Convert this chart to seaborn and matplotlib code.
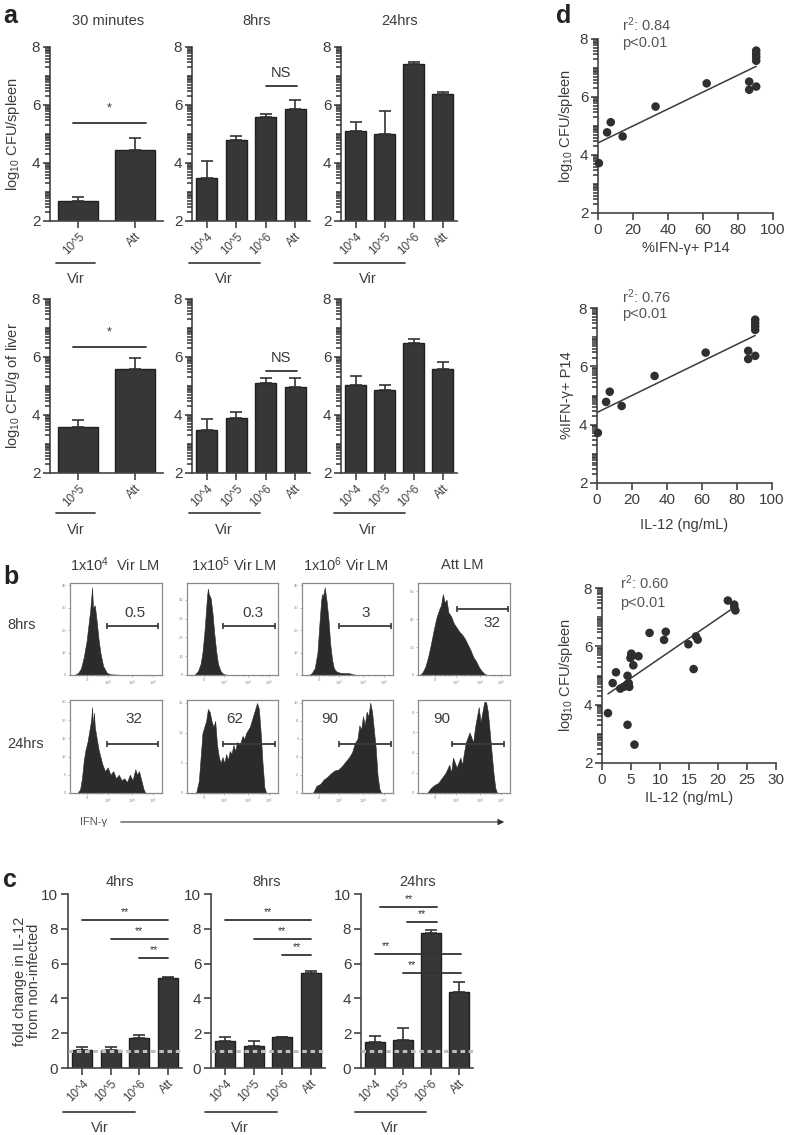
import numpy as np
import pandas as pd
import matplotlib
matplotlib.use('Agg')
import matplotlib.pyplot as plt
import seaborn as sns
from matplotlib.lines import Line2D
from matplotlib.patches import FancyArrowPatch
from matplotlib.ticker import FixedLocator, NullLocator
from matplotlib.transforms import blended_transform_factory

sns.set_theme(style='ticks')
plt.rcParams['font.family'] = ['Liberation Sans', 'DejaVu Sans']
plt.rcParams['mathtext.fontset'] = 'custom'
plt.rcParams['mathtext.rm'] = 'Liberation Sans'
plt.rcParams['mathtext.it'] = 'Liberation Sans:italic'
plt.rcParams['mathtext.bf'] = 'Liberation Sans:bold'

TXT = '#3c3c3c'
BAR = '#373737'
SPINE = '#444444'

# ---------------- data ----------------
# panel a: log10 CFU
cats2 = ['10^5', 'Att']
cats4 = ['10^4', '10^5', '10^6', 'Att']
spleen_30m = [2.70, 4.45]
spleen_30m_err = [0.14, 0.42]
spleen_8h = [3.50, 4.80, 5.58, 5.85]
spleen_8h_err = [0.57, 0.12, 0.10, 0.31]
spleen_24h = [5.12, 5.00, 7.42, 6.37]
spleen_24h_err = [0.31, 0.78, 0.08, 0.09]
liver_30m = [3.60, 5.60]
liver_30m_err = [0.23, 0.38]
liver_8h = [3.47, 3.90, 5.10, 4.97]
liver_8h_err = [0.40, 0.20, 0.18, 0.32]
liver_24h = [5.03, 4.87, 6.50, 5.57]
liver_24h_err = [0.32, 0.15, 0.12, 0.27]
a_titles = ['30 minutes', '8hrs', '24hrs']

# panel b: IFN-gamma histograms (channel 0-100, counts)
b_titles = ['1x10$^{4}$  Vir LM', '1x10$^{5}$ Vir LM', '1x10$^{6}$ Vir LM', 'Att LM']
h8_v4_x = [5, 9, 12, 15, 18, 20, 22, 23, 24, 25, 27, 29, 31, 33, 36, 40, 44, 60, 100]
h8_v4_y = [0, 1, 3, 8, 15, 22, 29, 34, 39, 30, 31, 24, 16, 10, 4, 1, 0.3, 0, 0]
h8_v5_x = [8, 12, 15, 17, 19, 21, 22, 23, 24, 26, 28, 30, 32, 34, 37, 40, 45, 100]
h8_v5_y = [0, 2, 6, 12, 22, 35, 42, 46, 43, 41, 33, 22, 13, 6, 2, 0.5, 0, 0]
h8_v6_x = [8, 11, 14, 17, 19, 21, 22, 23, 24, 25, 26, 27, 29, 31, 33, 35, 38, 42, 48, 52, 56, 60, 100]
h8_v6_y = [0, 1, 3, 10, 22, 33, 36, 35, 37, 39, 36, 33, 25, 14, 7, 3, 1.5, 1, 0.8, 0.8, 0.3, 0, 0]
h8_att_x = [2, 5, 8, 11, 14, 17, 20, 23, 25, 27, 29, 31, 33, 36, 39, 42, 45, 48, 51, 54, 57, 60, 63, 66, 69, 72, 75, 100]
h8_att_y = [0, 2, 6, 13, 22, 32, 41, 47, 50, 58, 52, 54, 45, 42, 37, 34, 31, 29, 26, 22, 18, 13, 10, 6, 3, 1, 0, 0]
h24_v4_x = [8, 11, 13, 15, 17, 19, 21, 23, 24, 25, 26, 27, 29, 31, 33, 35, 38, 41, 44, 47, 50, 53, 56, 59, 62, 65, 68, 71, 73, 75, 78, 80, 82, 100]
h24_v4_y = [0, 1, 4, 9, 12, 14, 17, 20, 23.5, 18, 22, 18, 15, 12, 10, 8, 6, 7, 5, 6, 4, 5, 3.5, 4, 3, 5, 3.5, 6.5, 5, 6, 3, 1, 0, 0]
h24_v5_x = [10, 13, 15, 17, 19, 21, 23, 25, 27, 29, 31, 33, 35, 37, 39, 41, 43, 45, 47, 49, 51, 53, 55, 57, 59, 61, 63, 65, 67, 69, 71, 73, 75, 77, 79, 81, 83, 85, 87, 100]
h24_v5_y = [0, 2, 6, 10, 11, 12, 14, 13.5, 12, 11, 12, 8, 6, 5, 6, 5, 6.5, 5.5, 7, 6.5, 8, 7, 8.5, 8, 8.5, 9.5, 9, 10, 10.5, 11, 12, 13, 14, 15, 14, 10, 5, 1, 0, 0]
h24_v6_x = [12, 16, 20, 24, 28, 32, 36, 40, 44, 48, 52, 55, 58, 61, 63, 65, 67, 69, 71, 73, 75, 77, 79, 81, 83, 85, 87, 100]
h24_v6_y = [0, 0.8, 1, 1.5, 1.8, 2.2, 2.5, 2.6, 3, 3.5, 4, 4.5, 5.5, 6, 7.5, 7, 8.5, 7.5, 9, 8.5, 10, 9, 7, 5, 2, 0.5, 0, 0]
h24_att_x = [10, 14, 18, 22, 26, 30, 34, 36, 38, 42, 46, 48, 50, 52, 54, 56, 58, 60, 62, 64, 66, 68, 70, 72, 74, 76, 78, 80, 82, 84, 86, 100]
h24_att_y = [0, 0.5, 0.8, 1, 1.5, 2, 2.8, 2, 3.5, 2.5, 3.5, 2.8, 4, 5, 5.5, 6, 5.5, 5, 6.5, 7.5, 8.5, 7, 8, 9, 9, 8, 6, 4, 2, 0.5, 0, 0]
gate_pct_8h = ['0.5', '0.3', '3', '32']
gate_pct_24h = ['32', '62', '90', '90']
flow_xtick_labels = ['0', '$10^3$', '$10^4$', '$10^5$']

# panel c: fold change IL-12
c_titles = ['4hrs', '8hrs', '24hrs']
il12_4h = [1.05, 1.05, 1.70, 5.20]
il12_4h_err = [0.15, 0.15, 0.18, 0.02]
il12_8h = [1.55, 1.27, 1.78, 5.47]
il12_8h_err = [0.22, 0.30, 0.03, 0.13]
il12_24h = [1.47, 1.60, 7.78, 4.38]
il12_24h_err = [0.36, 0.72, 0.15, 0.58]

# panel d: correlations
pct_ifng = [0.5, 5.2, 7.3, 14.1, 32.9, 62.1, 86.4, 86.4, 90.4, 90.4, 90.4, 90.4, 90.4]
cfu_spleen_d1 = [3.72, 4.78, 5.13, 4.64, 5.67, 6.47, 6.53, 6.25, 6.36, 7.25, 7.37, 7.48, 7.60]
il12_ngml = [1.03, 1.84, 2.41, 3.16, 3.73, 4.3, 4.4, 4.6, 4.7, 4.4, 4.9, 5.05, 5.2, 5.4, 5.6, 6.3,
             8.2, 10.7, 11.0, 14.9, 15.8, 16.2, 16.5, 21.7, 22.8, 22.8, 23.0]
cfu_spleen_d3 = [3.71, 4.74, 5.11, 4.55, 4.61, 4.69, 4.99, 4.74, 4.61, 3.31, 5.60, 5.75, 5.68, 5.35, 2.63, 5.66,
                 6.46, 6.22, 6.50, 6.07, 5.22, 6.34, 6.23, 7.57, 7.43, 7.35, 7.23]
d_stats = [('r$^2$: 0.84', 'p<0.01'), ('r$^2$: 0.76', 'p<0.01'), ('r$^2$: 0.60', 'p<0.01')]

# ---------------- figure ----------------
W, H = 787, 1135
fig = plt.figure(figsize=(W / 100, H / 100), dpi=100)
fig.patch.set_facecolor('white')


def add_ax(x0, y0, x1, y1):
    return fig.add_axes([x0 / W, 1 - y1 / H, (x1 - x0) / W, (y1 - y0) / H])


def ftext(x, y, s, **kw):
    kw.setdefault('color', TXT)
    fig.text(x / W, 1 - y / H, s, **kw)


def fline(x0, x1, y, **kw):
    fig.add_artist(Line2D([x0 / W, x1 / W], [1 - y / H, 1 - y / H], transform=fig.transFigure,
                          color='#444444', lw=1.3, **kw))


log_minor = [n + np.log10(k) for n in range(2, 8) for k in range(2, 10)] + [3, 5, 7]


def style_axis(ax, ytick_size=11):
    sns.despine(ax=ax)
    for s in ['left', 'bottom']:
        ax.spines[s].set_color(SPINE)
        ax.spines[s].set_linewidth(1.2)
    ax.tick_params(axis='both', which='major', colors=SPINE, labelcolor=TXT, length=5, width=1.2,
                   labelsize=ytick_size, pad=2)
    ax.yaxis.set_minor_locator(NullLocator())
    ax.set_facecolor('white')


def add_minor(ax):
    # log-spaced minor tick marks along the left spine
    tr = blended_transform_factory(ax.transAxes, ax.transData)
    ax.plot(np.zeros(len(log_minor)), log_minor, transform=tr, linestyle='none',
            marker=0, markersize=3.6, markeredgewidth=1.1, color='#333333', clip_on=False, zorder=6)


def bar_panel(ax, cats, vals, errs, ylim, yticks, minor=True):
    df = pd.DataFrame({'cat': cats, 'val': vals})
    sns.barplot(data=df, x='cat', y='val', ax=ax, color=BAR, saturation=1, width=0.7,
                edgecolor='#1f1f1f', linewidth=1.0, errorbar=None)
    ax.errorbar(np.arange(len(cats)), vals, yerr=[np.zeros(len(vals)), errs], fmt='none',
                ecolor='#333333', elinewidth=1.2, capsize=4, capthick=1.2, zorder=1)
    ax.set_xlim(-0.5, len(cats) - 0.5)
    ax.set_ylim(*ylim)
    ax.set_yticks(yticks)
    ax.set_xlabel('')
    ax.set_ylabel('')
    style_axis(ax)
    if minor:
        add_minor(ax)
    ax.set_xticks(np.arange(len(cats)))
    ax.set_xticklabels(cats, rotation=45, ha='right', rotation_mode='anchor', fontsize=8.5, color='#444444')


def sig(ax, x0, x1, y, label, xt=None, dy=0.45, size=7.5):
    ax.plot([x0, x1], [y, y], color='#333333', lw=1.3, clip_on=False)
    if xt is None:
        xt = (x0 + x1) / 2
    ax.text(xt, y + dy, label, ha='center', va='center', fontsize=size, color='#333333')


# ---------- panel a ----------
a_x = [(50, 163), (192, 310), (341, 457)]
rows = [((47, 221), [spleen_30m, spleen_8h, spleen_24h], [spleen_30m_err, spleen_8h_err, spleen_24h_err],
         'log$_{10}$ CFU/spleen', 263, 279),
        ((299, 473), [liver_30m, liver_8h, liver_24h], [liver_30m_err, liver_8h_err, liver_24h_err],
         'log$_{10}$ CFU/g of liver', 513, 530)]
vir_a = [(56, 95, 76), (189, 260, 224), (334, 405, 368)]
a_axes = []
for (y0, y1), vals_list, errs_list, ylab, vline_y, vtext_y in rows:
    row_axes = []
    for i, ((x0, x1), vals, errs) in enumerate(zip(a_x, vals_list, errs_list)):
        ax = add_ax(x0, y0, x1, y1)
        cats = cats2 if i == 0 else cats4
        bar_panel(ax, cats, vals, errs, (2, 8), [2, 4, 6, 8])
        row_axes.append(ax)
        lx0, lx1, tx = vir_a[i]
        fline(lx0, lx1, vline_y)
        ftext(tx, vtext_y, 'Vir', ha='center', va='center', fontsize=10.5)
    row_axes[0].set_ylabel(ylab, fontsize=10.5, color=TXT)
    row_axes[0].yaxis.set_label_coords(-0.245, 0.5)
    a_axes.append(row_axes)

for t, cx in zip(a_titles, [108, 257, 400]):
    ftext(cx, 21, t, ha='center', va='center', fontsize=10.5)

sig(a_axes[0][0], -0.1, 1.2, 5.38, '*', dy=0.5, size=9)
sig(a_axes[1][0], -0.1, 1.2, 6.34, '*', dy=0.5, size=9)
sig(a_axes[0][1], 2.0, 3.05, 6.65, 'NS', dy=0.45, size=10.5)
sig(a_axes[1][1], 2.0, 3.05, 5.52, 'NS', dy=0.45, size=10.5)

# ---------- panel b ----------
b_cols = [(70, 162), (187, 278), (302, 393), (418, 510)]
b_rows = [(583, 675), (700, 793)]
b_title_x = [115, 234, 346, 462]
hists = [[(h8_v4_x, h8_v4_y), (h8_v5_x, h8_v5_y), (h8_v6_x, h8_v6_y), (h8_att_x, h8_att_y)],
         [(h24_v4_x, h24_v4_y), (h24_v5_x, h24_v5_y), (h24_v6_x, h24_v6_y), (h24_att_x, h24_att_y)]]
b_ylims = [[41, 49, 41, 66], [25.5, 15.5, 10.3, 9.2]]
b_yticks = [[[0, 10, 20, 30, 40], [0, 10, 20, 30, 40], [0, 10, 20, 30, 40], [0, 20, 40, 60]],
            [[0, 5, 10, 15, 20, 25], [0, 5, 10, 15], [0, 2, 4, 6, 8, 10], [0, 2, 4, 6, 8]]]
gates = [[(0.40, 0.96, 0.53), (0.40, 0.97, 0.53), (0.41, 0.98, 0.53), (0.42, 0.98, 0.72)],
         [(0.40, 0.96, 0.53), (0.40, 0.97, 0.53), (0.41, 0.98, 0.53), (0.37, 0.93, 0.53)]]
gate_txt_pos = [[(0.71, 0.67), (0.72, 0.67), (0.70, 0.67), (0.80, 0.57)],
                [(0.69, 0.80), (0.53, 0.80), (0.31, 0.80), (0.26, 0.80)]]
pcts = [gate_pct_8h, gate_pct_24h]
for r, (y0, y1) in enumerate(b_rows):
    for c, (x0, x1) in enumerate(b_cols):
        ax = add_ax(x0, y0, x1, y1)
        hx, hy = hists[r][c]
        ax.fill_between(hx, hy, 0, color='#2b2b2b', lw=0.4, edgecolor='#2b2b2b')
        ax.set_xlim(0, 100)
        ax.set_ylim(0, b_ylims[r][c])
        ax.set_xticks([19, 41, 67, 90])
        ax.set_xticklabels(flow_xtick_labels)
        ax.set_yticks(b_yticks[r][c])
        ax.xaxis.set_minor_locator(FixedLocator([5, 10, 14, 24, 29, 33, 36, 50, 56, 60, 63, 74, 80, 84, 87]))
        ax.tick_params(axis='both', which='both', labelsize=3, colors='#888888', labelcolor='#888888',
                       length=1.5, width=0.4, pad=1)
        ax.tick_params(axis='x', which='minor', length=1, bottom=True)
        for s in ax.spines.values():
            s.set_color('#8a8a8a')
            s.set_linewidth(0.9)
        gx0, gx1, gy = gates[r][c]
        ax.plot([gx0, gx1], [gy, gy], transform=ax.transAxes, color='#3a3a3a', lw=1.3,
                marker='|', markersize=5, markeredgewidth=1.2)
        tx, ty = gate_txt_pos[r][c]
        ax.text(tx, ty, pcts[r][c], transform=ax.transAxes, ha='center', va='center',
                fontsize=11, color=TXT)
for t, cx in zip(b_titles, b_title_x):
    ftext(cx, 565, t, ha='center', va='center', fontsize=10.5)
ftext(7, 625, '8hrs', ha='left', va='center', fontsize=10.5)
ftext(7, 744, '24hrs', ha='left', va='center', fontsize=10.5)
ftext(80, 822, 'IFN-γ', ha='left', va='center', fontsize=8, color='#555555')
fig.add_artist(FancyArrowPatch((118 / W, 1 - 822 / H), (507 / W, 1 - 822 / H), transform=fig.transFigure,
                               arrowstyle='-|>', mutation_scale=9, lw=0.8, color='#333333'))

# ---------- panel c ----------
c_x = [(68, 182), (211, 325), (361, 473)]
c_vals = [il12_4h, il12_8h, il12_24h]
c_errs = [il12_4h_err, il12_8h_err, il12_24h_err]
c_axes = []
for (x0, x1), vals, errs in zip(c_x, c_vals, c_errs):
    ax = add_ax(x0, 894, x1, 1068)
    bar_panel(ax, cats4, vals, errs, (0, 10), [0, 2, 4, 6, 8, 10], minor=False)
    ax.axhline(1, color='#bdbdbd', lw=2.2, ls=(0, (1.5, 1.2)), zorder=5)
    c_axes.append(ax)
c_axes[0].set_ylabel('fold change in IL-12\nfrom non-infected', fontsize=10.5, color=TXT, linespacing=1.0)
c_axes[0].yaxis.set_label_coords(-0.24, 0.5)
for t, cx in zip(c_titles, [120, 267, 418]):
    ftext(cx, 882, t, ha='center', va='center', fontsize=10.5)
for (lx0, lx1, tx) in [(63, 135, 100), (205, 277, 240), (355, 426, 390)]:
    fline(lx0, lx1, 1112)
    ftext(tx, 1128, 'Vir', ha='center', va='center', fontsize=10.5)
for ax in c_axes[:2]:
    sig(ax, 0, 3, 8.5, '**')
    sig(ax, 1, 3, 7.4, '**')
sig(c_axes[0], 2, 3, 6.3, '**')
sig(c_axes[1], 2, 3, 6.5, '**')
sig(c_axes[2], 0.18, 2.21, 9.25, '**')
sig(c_axes[2], 1.14, 2.21, 8.4, '**')
sig(c_axes[2], 0.0, 3.07, 6.55, '**', xt=0.39)
sig(c_axes[2], 1.0, 3.07, 5.45, '**', xt=1.32)

# ---------- panel d ----------
d_specs = [
    ((598, 39, 773, 213), pct_ifng, cfu_spleen_d1, (0, 100), [0, 20, 40, 60, 80, 100],
     '%IFN-γ+ P14', 'log$_{10}$ CFU/spleen', 248, (622, 25, 43)),
    ((597, 308, 772, 483), pct_ifng, cfu_spleen_d1, (0, 100), [0, 20, 40, 60, 80, 100],
     'IL-12 (ng/mL)', '%IFN-γ+ P14', 525, (622, 297, 314)),
    ((602, 588, 776, 763), il12_ngml, cfu_spleen_d3, (0, 30), [0, 5, 10, 15, 20, 25, 30],
     'IL-12 (ng/mL)', 'log$_{10}$ CFU/spleen', 798, (620, 583, 603)),
]
for k, ((x0, y0, x1, y1), xs, ys, xlim, xticks, xlab, ylab, xlab_y, (sx, sy1, sy2)) in enumerate(d_specs):
    ax = add_ax(x0, y0, x1, y1)
    df = pd.DataFrame({'x': xs, 'y': ys})
    sns.regplot(data=df, x='x', y='y', ax=ax, ci=None, truncate=True,
                scatter_kws=dict(s=38, color='#2f2f2f', edgecolor='none', alpha=1, clip_on=False, zorder=3),
                line_kws=dict(color='#3a3a3a', lw=1.1))
    ax.set_xlim(*xlim)
    ax.set_ylim(2, 8)
    ax.set_xticks(xticks)
    ax.set_yticks([2, 4, 6, 8])
    ax.set_xlabel('')
    ax.set_ylabel(ylab, fontsize=10.5, color=TXT)
    ax.yaxis.set_label_coords(-0.13 if k < 2 else -0.155, 0.5)
    style_axis(ax)
    add_minor(ax)
    ftext((x0 + x1) / 2, xlab_y, xlab, ha='center', va='center', fontsize=10.5)
    ftext(sx, sy1, d_stats[k][0], ha='left', va='center', fontsize=10.5, color='#555555')
    ftext(sx, sy2, d_stats[k][1], ha='left', va='center', fontsize=10.5, color='#555555')

# panel letters
for letter, (lx, ly) in zip('abcd', [(10, 16), (11, 577), (10, 880), (564, 16)]):
    ftext(lx, ly, letter, ha='center', va='center', fontsize=18, fontweight='bold', color='#222222')

fig.savefig('out.png', dpi=100, facecolor='white')
